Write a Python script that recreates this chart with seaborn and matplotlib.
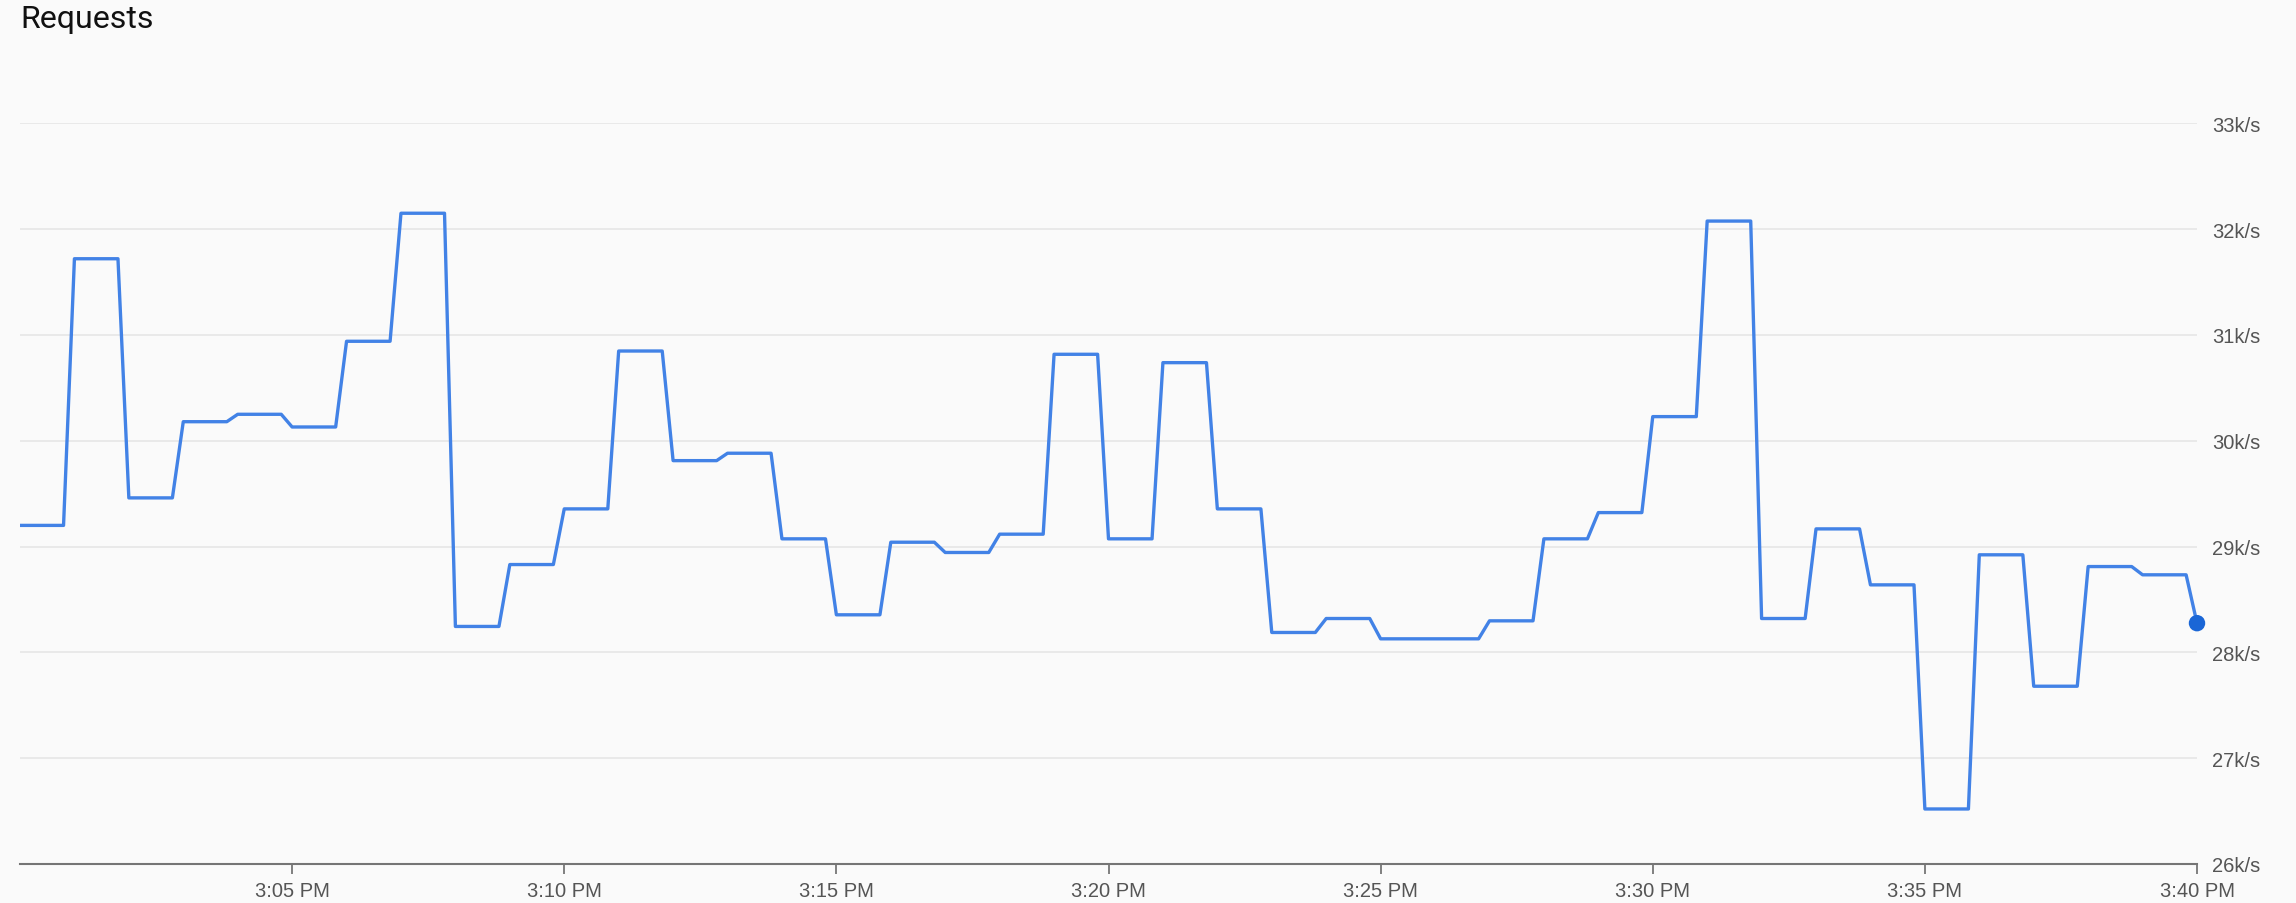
import seaborn as sns
import matplotlib.pyplot as plt
import matplotlib.dates as mdates
import matplotlib.ticker as mticker
import pandas as pd

# Requests per second, one value per minute from 3:00 PM to 3:40 PM
minutes = pd.date_range("2024-01-01 15:00", "2024-01-01 15:40", freq="1min")
requests = [29200, 31720, 29460, 30180, 30250, 30130, 30940, 32150, 28245, 28830,
            29356, 30848, 29812, 29882, 29073, 28355, 29041, 28944, 29117, 30817,
            29073, 30738, 29356, 28188, 28320, 28128, 28128, 28298, 29073, 29321,
            30228, 32076, 28320, 29167, 28638, 26520, 28922, 27680, 28811, 28733,
            28276]
y_ticks = [26000, 27000, 28000, 29000, 30000, 31000, 32000, 33000]

# each per-minute value is held for 48 s before the next one starts
hold = pd.Timedelta(seconds=48)
rows = []
for t, v in zip(minutes[:-1], requests[:-1]):
    rows.append((t, v))
    rows.append((t + hold, v))
rows.append((minutes[-1], requests[-1]))
df = pd.DataFrame(rows, columns=["time", "requests"])

sns.set_style("white")
plt.rcParams["font.family"] = ["Liberation Sans", "DejaVu Sans"]

fig = plt.figure(figsize=(22.96, 9.04), dpi=100, facecolor="#fafafa")
ax = fig.add_axes([20 / 2296, 1 - 865 / 904, (2197 - 20) / 2296, (865 - 124.3) / 904])
ax.set_facecolor("#fafafa")

sns.lineplot(data=df, x="time", y="requests", ax=ax, color="#4282e6",
             linewidth=2.4, estimator=None, sort=False)
sns.scatterplot(x=[minutes[-1]], y=[requests[-1]], ax=ax, color="#1a66d6",
                s=140, edgecolor="none", zorder=5, clip_on=False)

ax.set_xlim(minutes[0], minutes[-1])
ax.set_ylim(y_ticks[0], y_ticks[-1])

ax.xaxis.set_major_locator(mdates.MinuteLocator(byminute=range(5, 60, 5)))
ax.xaxis.set_major_formatter(
    mticker.FuncFormatter(lambda v, p: mdates.num2date(v).strftime("%I:%M %p").lstrip("0")))
ax.set_yticks(y_ticks)
ax.yaxis.set_major_formatter(mticker.FuncFormatter(lambda v, p: f"{v / 1000:.0f}k/s"))
ax.yaxis.tick_right()

ax.tick_params(axis="x", length=7, width=1.2, color="#6b6b6b", labelsize=14.5,
               labelcolor="#555555", pad=5, bottom=True)
ax.tick_params(axis="y", length=0, labelsize=14.5, labelcolor="#555555", pad=11)
for lab in ax.get_yticklabels():
    lab.set_horizontalalignment("left")

ax.grid(axis="y", color="#e9e9e9", linewidth=1.4)
ax.grid(axis="x", visible=False)
for side in ["top", "left", "right"]:
    ax.spines[side].set_visible(False)
ax.spines["bottom"].set_color("#757575")
ax.spines["bottom"].set_linewidth(1.5)

ax.set_xlabel("")
ax.set_ylabel("")
fig.text(20 / 2296, 1 - 20 / 904, "Requests", fontsize=23, family=["Roboto", "DejaVu Sans"],
         color="#111111", ha="left", va="center")

fig.savefig("out.png", dpi=100, facecolor=fig.get_facecolor())
